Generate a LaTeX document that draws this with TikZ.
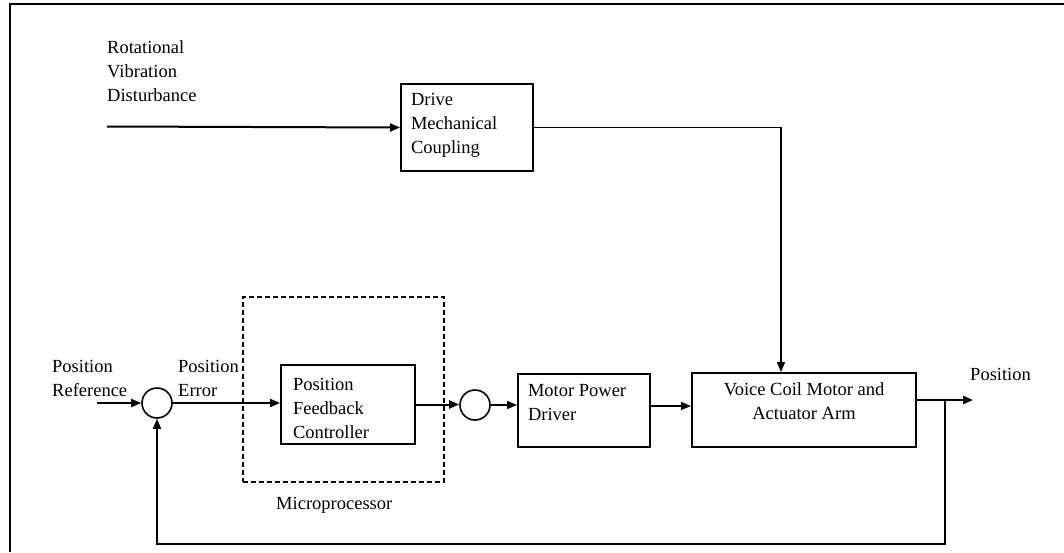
\documentclass[tikz,border=0pt]{standalone}
\usepackage{fontspec}
\setmainfont{Liberation Serif}
\usetikzlibrary{arrows.meta}
\begin{document}
\begin{tikzpicture}[x=1pt,y=-1pt,
  every node/.style={font=\fontsize{18.5}{24}\selectfont},
  blk/.style={draw, line width=2pt, inner sep=0pt, anchor=north west},
  sumj/.style={draw, circle, line width=1.6pt, minimum size=30pt, inner sep=0pt},
  lbl/.style={anchor=north west, inner sep=0pt, align=left},
  arr/.style={line width=2pt, -{Triangle[length=10pt,width=8pt]}},
  thinarr/.style={line width=1.5pt, -{Triangle[length=10pt,width=8pt]}},
  ln/.style={line width=2pt}]
\useasboundingbox (0,0) rectangle (1064,552);

% frame
\draw[line width=2pt] (10,552) -- (10,4.3) -- (1064,4.3);

% blocks
\node[blk] (drive) at (400,83)
  {\parbox[c][87pt][t]{132pt}{\vspace*{9pt}\leftskip=10pt\noindent Drive\\Mechanical\\Coupling}};
\node[blk] (pfc) at (280,364)
  {\parbox[c][79pt][t]{134pt}{\vspace*{13pt}\leftskip=12pt\noindent Position\\Feedback\\Controller}};
\node[blk] (mpd) at (517,373)
  {\parbox[c][73pt][t]{132pt}{\vspace*{10pt}\leftskip=10pt\noindent Motor Power\\Driver}};
\node[blk] (vcm) at (691,372)
  {\parbox[c][74pt][t]{224pt}{\vspace*{10pt}\centering Voice Coil Motor and\\Actuator Arm}};

% microprocessor dashed boundary
\node[draw, dash pattern=on 5pt off 3pt, line width=2pt, inner sep=0pt,
  minimum width=201pt, minimum height=185pt, anchor=north west] (micro) at (242,296) {};

% summing junctions
\node[sumj] (sum1) at (157,403) {};
\node[sumj] (sum2) at (475,405) {};

% labels
\node[lbl] (ldist) at (107,40) {Rotational\\Vibration\\Disturbance};
\node[lbl] (lref) at (52,360) {Position\\Reference};
\node[lbl] (lerr) at (178,360) {Position\\Error};
\node[lbl] (lpos) at (970,368) {Position};
\node[lbl] (lmicro) at (276,497) {Microprocessor};

% coordinates for free ends
\coordinate (dist) at (107,126.5);
\coordinate (ref) at (97,403);
\coordinate (vout) at (915,400);
\coordinate (posend) at (973,400);
\coordinate (branch) at (945,400);

% connectors
\draw[arr] (dist) -- (drive.west);
\draw[thinarr] (drive.east) -| ([xshift=90pt]vcm.north west);
\draw[arr] (ref) -- (sum1.west);
\draw[arr] (sum1.east) -- (sum1.east -| pfc.west);
\draw[arr] (pfc.east) -- (pfc.east -| sum2.west);
\draw[thinarr] (sum2.east) -- (sum2.east -| mpd.west);
\draw[thinarr] (mpd.east |- 0,406) -- (vcm.west |- 0,406);
\draw[arr] (vout) -- (posend);
\draw[arr] (branch) -- (branch |- 0,544) -| (sum1.south);
\end{tikzpicture}
\end{document}
